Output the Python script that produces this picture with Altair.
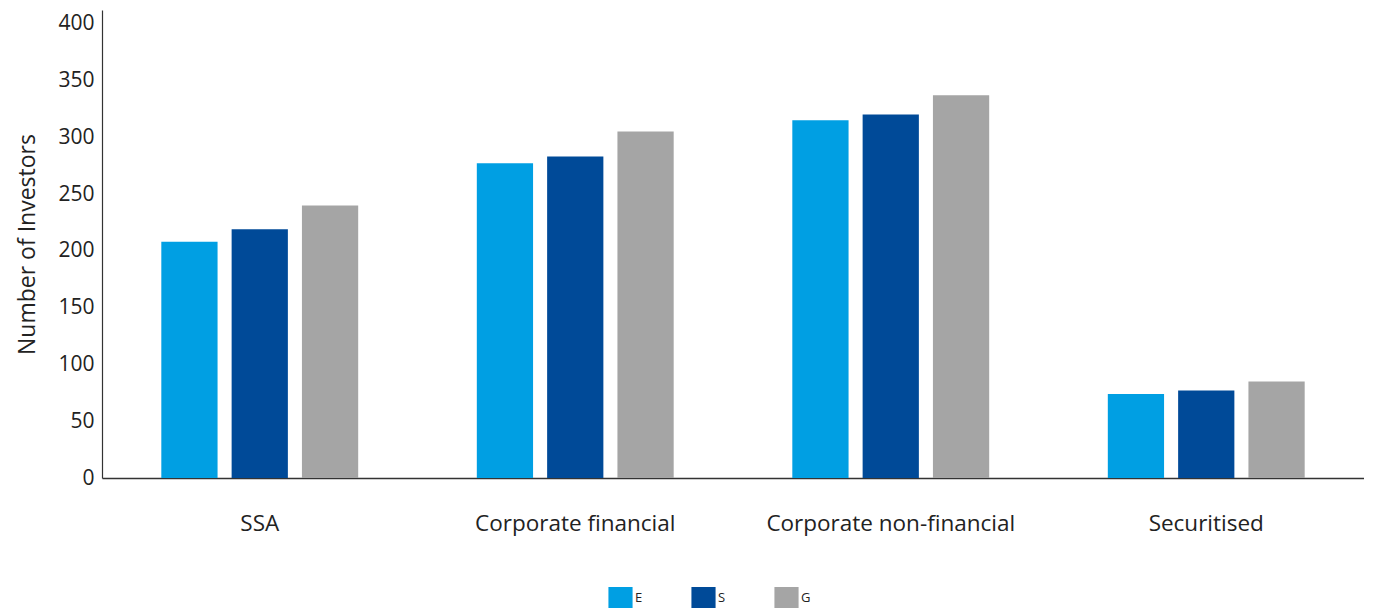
import altair as alt
import pandas as pd

categories = ["SSA", "Corporate financial", "Corporate non-financial", "Securitised"]
series = ["E", "S", "G"]
values_E = [208, 277, 315, 74]
values_S = [219, 283, 320, 77]
values_G = [240, 305, 337, 85]
colors = ["#009FE3", "#004A98", "#A5A5A5"]

rows = []
for i, c in enumerate(categories):
    for s, vals in zip(series, [values_E, values_S, values_G]):
        rows.append({"category": c, "series": s, "value": vals[i]})
df = pd.DataFrame(rows)

font = "Open Sans"

chart = alt.Chart(df).mark_bar().encode(
    x=alt.X("category:N", sort=categories,
            scale=alt.Scale(paddingInner=0.376, paddingOuter=0.188),
            axis=alt.Axis(title=None, labelAngle=0, ticks=False, labelPadding=34,
                          labelFontSize=22.5, labelColor="#222222", labelFont=font,
                          labelLimit=400,
                          domainColor="#333333", domainWidth=1.5)),
    xOffset=alt.XOffset("series:N", sort=series, scale=alt.Scale(paddingInner=0.2)),
    y=alt.Y("value:Q", scale=alt.Scale(domain=[0, 412], nice=False),
            axis=alt.Axis(title="Number of Investors", values=list(range(0, 401, 50)),
                          ticks=False, grid=False, labelPadding=8, labelFontSize=21,
                          labelFont=font, labelColor="#222222", titleFont=font,
                          titleFontSize=23, titleFontWeight="normal", titleColor="#222222",
                          titlePadding=18, domainColor="#333333", domainWidth=1.2)),
    color=alt.Color("series:N", sort=series,
                    scale=alt.Scale(domain=series, range=colors),
                    legend=alt.Legend(title=None, orient="none", direction="horizontal",
                                      legendX=508, legendY=577,
                                      symbolType="M-1.15,-1H1.15V1H-1.15Z", symbolSize=441,
                                      symbolStrokeWidth=0, symbolOpacity=1,
                                      labelFont=font, labelFontSize=13, labelColor="#222222",
                                      columnPadding=48, labelOffset=4)),
).properties(width=1262, height=468, padding={"left": 8, "top": 2, "right": 0, "bottom": 0}
).configure_view(stroke=None)

chart.save("out.html", embed_options={"renderer": "svg", "actions": False})
